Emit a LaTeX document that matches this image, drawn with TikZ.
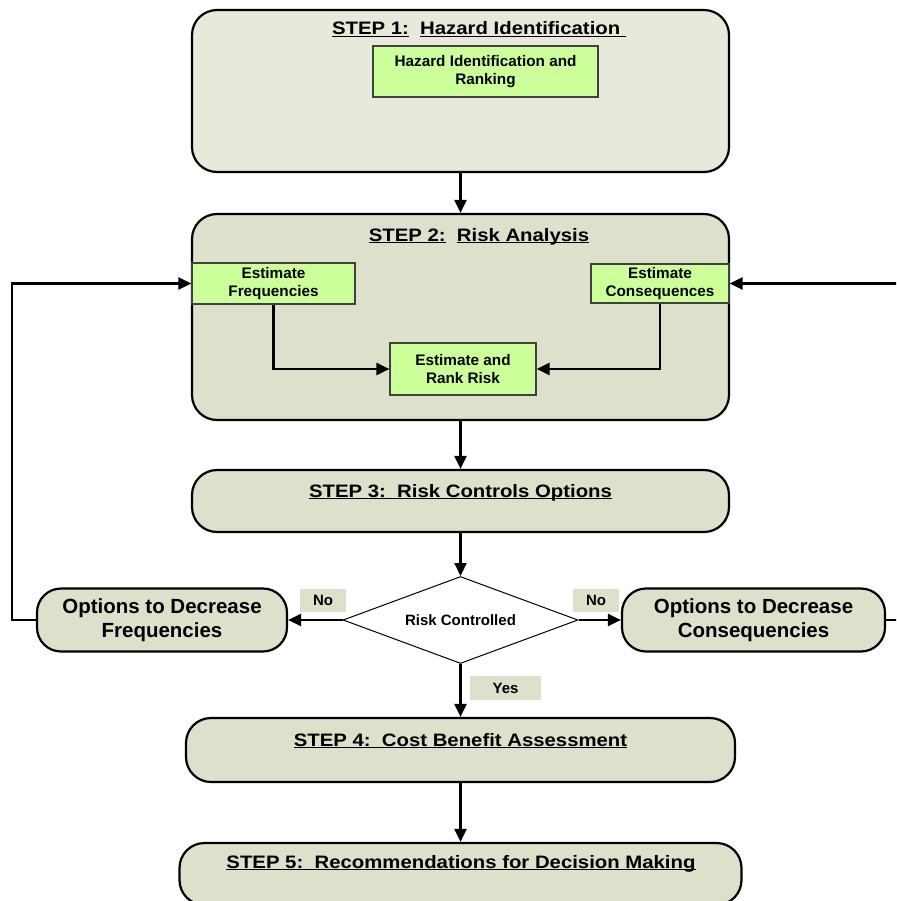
\documentclass[tikz,border=0pt]{standalone}
\usepackage{fontspec}
\setmainfont{Liberation Sans}
\newfontfamily\titlefont[FakeStretch=1.13]{Liberation Sans}
\usetikzlibrary{arrows.meta,shapes.geometric}
\newcommand\myul[1]{\setbox0\hbox{#1}\rlap{\rule[-2.4pt]{\wd0}{1.4pt}}\box0}
\definecolor{stepone}{HTML}{E7E9DA}
\definecolor{stepfill}{HTML}{DDE0CA}
\definecolor{greenbox}{HTML}{CCFF99}
\definecolor{greenborder}{HTML}{404040}
\tikzset{
  stepbox/.style={draw=black, line width=2.2pt, fill=stepfill, rounded corners=25pt, inner sep=0pt},
  gbox/.style={draw=greenborder, line width=1.2pt, fill=greenbox, inner sep=0pt, align=center,
     font=\bfseries\fontsize{15.3}{17.5}\selectfont},
  titletext/.style={inner sep=0pt, font=\titlefont\bfseries\fontsize{18}{22}\selectfont},
  optbox/.style={draw=black, line width=2.2pt, fill=stepfill, rounded corners=24pt, inner sep=0pt, align=center,
     font=\bfseries\fontsize{20.5}{24.5}\selectfont},
  lbl/.style={fill=stepfill, inner sep=0pt, font=\bfseries\fontsize{15}{17}\selectfont},
  arr/.style={line width=2.2pt, -{Triangle[length=13pt,width=12pt]}}
}
\begin{document}
\begin{tikzpicture}[x=1pt,y=-1pt]
\useasboundingbox (0,0) rectangle (896,901);
\clip (0,0) rectangle (896,901);
% STEP 1
\node[stepbox, fill=stepone, minimum width=537pt, minimum height=162pt] (s1) at (460.5,91) {};
\node[titletext, anchor=base] (t1) at (479,35) {\myul{STEP 1:}\ \ \myul{Hazard Identification\ }};
\node[gbox, minimum width=225pt, minimum height=51pt] (hz) at (485.5,71.5) {Hazard Identification and\\Ranking};
% STEP 2
\node[stepbox, minimum width=537pt, minimum height=206pt] (s2) at (460.5,317) {};
\node[titletext, anchor=base] (t2) at (479,241) {\myul{STEP 2:}\ \ \myul{Risk Analysis}};
\node[gbox, minimum width=163pt, minimum height=41pt] (ef) at (273.5,283.5) {Estimate\\Frequencies};
\node[gbox, minimum width=138pt, minimum height=39pt] (ec) at (660,283.5) {Estimate\\Consequences};
\node[gbox, minimum width=146pt, minimum height=52pt] (er) at (463,369) {Estimate and\\Rank Risk};
% STEP 3
\node[stepbox, minimum width=537pt, minimum height=62pt] (s3) at (460.5,501) {};
\node[titletext, anchor=base] (t3) at (460.5,497) {\myul{STEP 3:\ \ Risk Controls Options}};
% Decision
\node[diamond, aspect=2.7, draw=black, line width=1pt, fill=white, minimum width=235pt, minimum height=87pt, inner sep=0pt,
  font=\bfseries\fontsize{15}{17}\selectfont] (d) at (460.5,620) {Risk Controlled};
\node[optbox, minimum width=250pt, minimum height=63pt] (of) at (162,620) {Options to Decrease\\Frequencies};
\node[optbox, minimum width=263pt, minimum height=63pt] (oc) at (753.5,620) {Options to Decrease\\Consequencies};
\node[lbl, minimum width=46pt, minimum height=23pt] (no1) at (323,600.5) {No};
\node[lbl, minimum width=46pt, minimum height=23pt] (no2) at (596,600.5) {No};
\node[lbl, minimum width=71pt, minimum height=24pt] (yes) at (505.5,688) {Yes};
% STEP 4
\node[stepbox, minimum width=549pt, minimum height=64pt] (s4) at (460.5,750) {};
\node[titletext, anchor=base] (t4) at (460.5,746) {\myul{STEP 4:\ \ Cost Benefit Assessment}};
% STEP 5
\node[stepbox, minimum width=562pt, minimum height=62pt] (s5) at (460.5,874) {};
\node[titletext, anchor=base] (t5) at (461,868) {\myul{STEP 5:\ \ Recommendations for Decision Making}};
% connectors
\draw[arr] (s1.south) -- (s2.north);
\draw[arr] (ef.south) |- (er.west);
\draw[arr] (ec.south) |- (er.east);
\draw[arr] (s2.south) -- (s3.north);
\draw[arr] (s3.south) -- (d.north);
\draw[arr] (d.west) -- (of.east);
\draw[arr] (d.east) -- (oc.west);
\draw[arr] (d.south) -- (s4.north);
\draw[arr] (s4.south) -- (s5.north);
\draw[arr] (of.west) -- ++(-24,0) |- (ef.west);
\draw[arr] (oc.east) -- ++(20,0) |- (ec.east);
\end{tikzpicture}
\end{document}
